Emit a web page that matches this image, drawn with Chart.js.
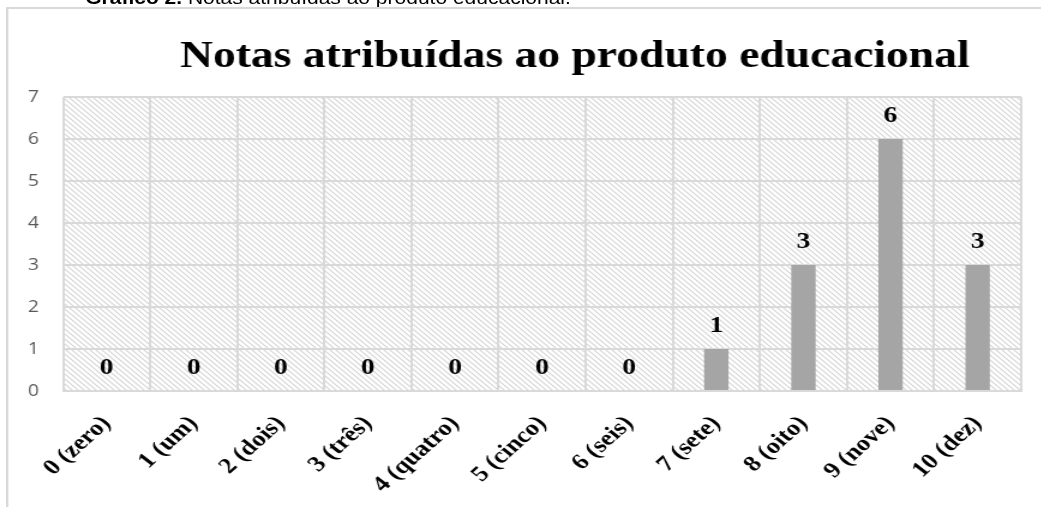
<!DOCTYPE html>
<html>
<head>
<meta charset="utf-8">
<script src="https://cdn.jsdelivr.net/npm/chart.js@4"></script>
<style>
    body { margin: 0; background: #fff; width: 1041px; height: 507px; overflow: hidden; }
    /* a figura original está esticada na horizontal */
    .wrap { position: absolute; left: 0; top: 0; width: 868px; height: 507px; transform: scaleX(1.2); transform-origin: 0 0; }
    .caption { position: absolute; left: 71px; top: -12px; font-family: "Liberation Sans", Arial, sans-serif; font-size: 17.5px; line-height: 20px; color: #000; white-space: nowrap; }
    .frame { position: absolute; left: 5px; top: 7px; width: 880px; height: 520px; border: 2px solid #d9d9d9; box-sizing: border-box; }
    #chart { position: absolute; left: 0; top: 0; }
</style>
</head>
<body>
<div class="wrap">
<div class="caption"><b>Gráfico 2.</b> Notas atribuídas ao produto educacional.</div>
<div class="frame"></div>
<canvas id="chart" width="868" height="507"></canvas>
</div>
<script>
// dados
const titulo = 'Notas atribuídas ao produto educacional';
const categorias = ['0 (zero)', '1 (um)', '2 (dois)', '3 (três)', '4 (quatro)', '5 (cinco)',
    '6 (seis)', '7 (sete)', '8 (oito)', '9 (nove)', '10 (dez)'];
const notas = [0, 0, 0, 0, 0, 0, 0, 1, 3, 6, 3];
const yTicks = [0, 1, 2, 3, 4, 5, 6, 7];

const serif = '"Liberation Serif", "Times New Roman", serif';

function makeHatch() {
    let c = document.createElement('canvas');
    c.width = 5;
    c.height = 5;
    let g = c.getContext('2d');
    g.strokeStyle = '#d4d4d4';
    g.lineWidth = 1.1;
    g.beginPath();
    g.moveTo(-1, -1); g.lineTo(6, 6);
    g.moveTo(-1, 4); g.lineTo(1, 6);
    g.moveTo(4, -1); g.lineTo(6, 1);
    g.stroke();
    return g.createPattern(c, 'repeat');
}

// fundo hachurado da área do gráfico
const hatchBg = {
    id: 'hatchBg',
    beforeDraw(chart) {
        let {ctx, chartArea} = chart;
        ctx.save();
        ctx.fillStyle = makeHatch();
        ctx.fillRect(chartArea.left, chartArea.top, chartArea.right - chartArea.left, chartArea.bottom - chartArea.top);
        ctx.restore();
    }
};

// título um pouco deslocado para a direita, como no original
const titlePlugin = {
    id: 'titlePlugin',
    afterDraw(chart) {
        let ctx = chart.ctx;
        ctx.save();
        ctx.font = 'bold 38px ' + serif;
        ctx.fillStyle = '#000';
        ctx.textAlign = 'center';
        ctx.textBaseline = 'alphabetic';
        ctx.fillText(titulo, 479, 67);
        ctx.restore();
    }
};

// rótulos de valor sobre as barras
const valueLabels = {
    id: 'valueLabels',
    afterDatasetsDraw(chart) {
        let ctx = chart.ctx;
        let meta = chart.getDatasetMeta(0);
        ctx.save();
        ctx.font = 'bold 23px ' + serif;
        ctx.fillStyle = '#000';
        ctx.textAlign = 'center';
        ctx.textBaseline = 'middle';
        meta.data.forEach((bar, i) => {
            ctx.fillText(String(notas[i]), bar.x, bar.y - 23);
        });
        ctx.restore();
    }
};

new Chart(document.getElementById('chart'), {
    type: 'bar',
    data: {
        labels: categorias,
        datasets: [{
            data: notas,
            backgroundColor: '#a5a5a5',
            borderWidth: 0,
            categoryPercentage: 1,
            barPercentage: 0.28
        }]
    },
    options: {
        responsive: false,
        animation: false,
        events: [],
        layout: { padding: { top: 97, right: 17, left: 0, bottom: 0 } },
        plugins: {
            legend: { display: false },
            tooltip: { enabled: false },
            title: { display: false }
        },
        scales: {
            x: {
                afterFit(scale) { scale.height = 116; },
                grid: { color: '#d9d9d9', lineWidth: 2, drawTicks: false, offset: true },
                border: { color: '#d9d9d9', width: 2 },
                ticks: {
                    color: '#000',
                    font: { family: serif, size: 22, weight: 'bold' },
                    minRotation: 47,
                    maxRotation: 47,
                    padding: 20
                }
            },
            y: {
                min: 0,
                max: 7,
                afterFit(scale) { scale.width = 52.5; },
                afterBuildTicks(scale) { scale.ticks = yTicks.map(v => ({value: v})); },
                grid: { color: '#d9d9d9', lineWidth: 2, drawTicks: false },
                border: { display: false },
                ticks: {
                    color: '#595959',
                    font: { family: '"Open Sans", sans-serif', size: 16 },
                    padding: 20
                }
            }
        }
    },
    plugins: [hatchBg, titlePlugin, valueLabels]
});
</script>
</body>
</html>
